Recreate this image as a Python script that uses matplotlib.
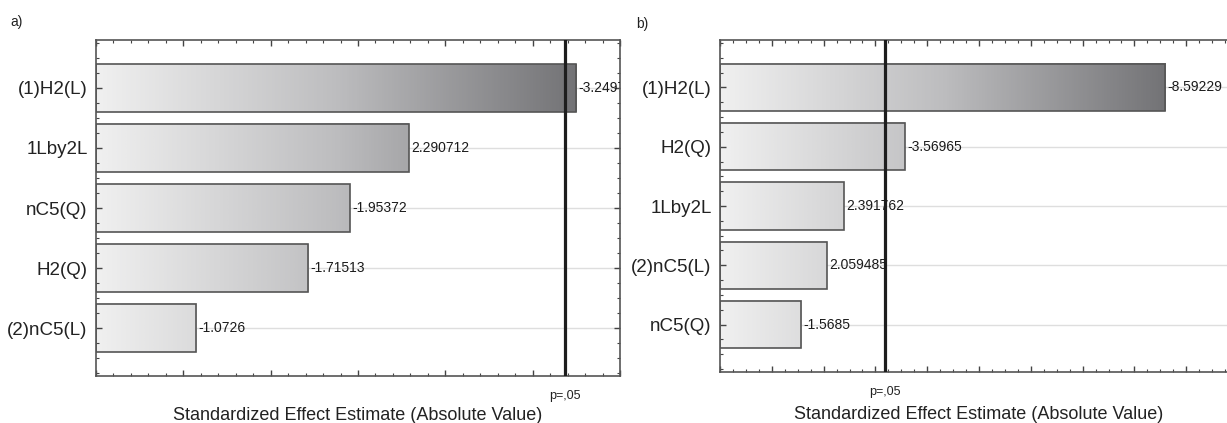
import numpy as np
import matplotlib
matplotlib.use("Agg")
import matplotlib.pyplot as plt
from matplotlib.ticker import MultipleLocator
from matplotlib.colors import LinearSegmentedColormap
import matplotlib.transforms as mtransforms

plt.rcParams['font.family'] = ['Liberation Sans', 'DejaVu Sans']

# panel a) effects
a_terms = ["(1)H2(L)", "1Lby2L", "nC5(Q)", "H2(Q)", "(2)nC5(L)"]
a_effects = [-3.2497, 2.290712, -1.95372, -1.71513, -1.0726]
a_labels = ["-3.2497", "2.290712", "-1.95372", "-1.71513", "-1.0726"]

# panel b) effects
b_terms = ["(1)H2(L)", "H2(Q)", "1Lby2L", "(2)nC5(L)", "nC5(Q)"]
b_effects = [-8.59229, -3.56965, 2.391762, 2.059485, -1.5685]
b_labels = ["-8.59229", "-3.56965", "2.391762", "2.059485", "-1.5685"]

t_crit = 3.182446  # p=.05 line

grey = LinearSegmentedColormap.from_list("bargrey", ["#f0f0f0", "#bdbdbf", "#737376"])


def pareto(ax, terms, effects, labels, xlim, major, minor, letter, lx, ly):
    vals = np.abs(np.array(effects))
    x0 = xlim[0]
    vmax = vals.max()
    ypos = np.arange(len(terms))
    ax.set_xlim(*xlim)
    ax.set_ylim(len(terms) - 0.2, -0.8)
    for y in ypos:
        ax.axhline(y, color="#dedede", lw=1, zorder=0)
    for y, v, lab in zip(ypos, vals, labels):
        xs = np.linspace(x0, v, 200)
        grad = ((xs - x0) / (vmax - x0))[None, :]
        ax.imshow(grad, cmap=grey, vmin=0, vmax=1, aspect="auto",
                  extent=(x0, v, y + 0.4, y - 0.4), zorder=1, interpolation="bilinear")
        ax.annotate(lab, (v, y), xytext=(1.5, 0), textcoords="offset points",
                    va="center", ha="left", fontsize=10, color="#1a1a1a",
                    annotation_clip=False, clip_on=True, zorder=4)
    ax.barh(ypos, vals - x0, left=x0, height=0.8, fill=False,
            edgecolor="#555555", lw=1.2, zorder=2)
    ax.axvline(t_crit, color="#1e1e1e", lw=2.3, zorder=3)
    trans = mtransforms.blended_transform_factory(ax.transData, ax.transAxes)
    ax.annotate("p=,05", (t_crit, 0), xycoords=trans, xytext=(0, -10),
                textcoords="offset points", ha="center", va="top",
                fontsize=9, color="#222222")
    ax.set_yticks(ypos)
    ax.set_yticklabels(terms, fontsize=13.5, color="#222222")
    ax.yaxis.set_minor_locator(MultipleLocator(0.25))
    ax.xaxis.set_major_locator(MultipleLocator(major))
    ax.xaxis.set_minor_locator(MultipleLocator(minor))
    ax.tick_params(which="both", direction="in", top=True, right=True,
                   labelbottom=False, color="#444444")
    ax.tick_params(which="major", length=4, width=1)
    ax.tick_params(which="minor", length=2.5, width=0.8)
    ax.tick_params(axis="y", which="major", pad=6)
    for s in ax.spines.values():
        s.set_color("#555555")
        s.set_linewidth(1.2)
    ax.set_xlabel("Standardized Effect Estimate (Absolute Value)", fontsize=13,
                  color="#222222")
    ax.figure.text(lx, ly, letter, fontsize=10, color="#222222")


fig = plt.figure(figsize=(12.27, 4.23), dpi=100)
ax1 = fig.add_axes([96 / 1227, 47 / 423, 524 / 1227, 336 / 423])
ax2 = fig.add_axes([720 / 1227, 51 / 423, 518 / 1227, 332 / 423])

pareto(ax1, a_terms, a_effects, a_labels, (0.5, 3.5), 0.5, 0.1, "a)", 10 / 1227, 1 - 26 / 423)
pareto(ax2, b_terms, b_effects, b_labels, (0.0, 10.0), 1.0, 0.25, "b)", 636 / 1227, 1 - 28 / 423)
ax1.xaxis.set_label_coords(0.5, -0.093)
ax2.xaxis.set_label_coords(0.5, -0.103)

fig.savefig("out.png", dpi=100)
